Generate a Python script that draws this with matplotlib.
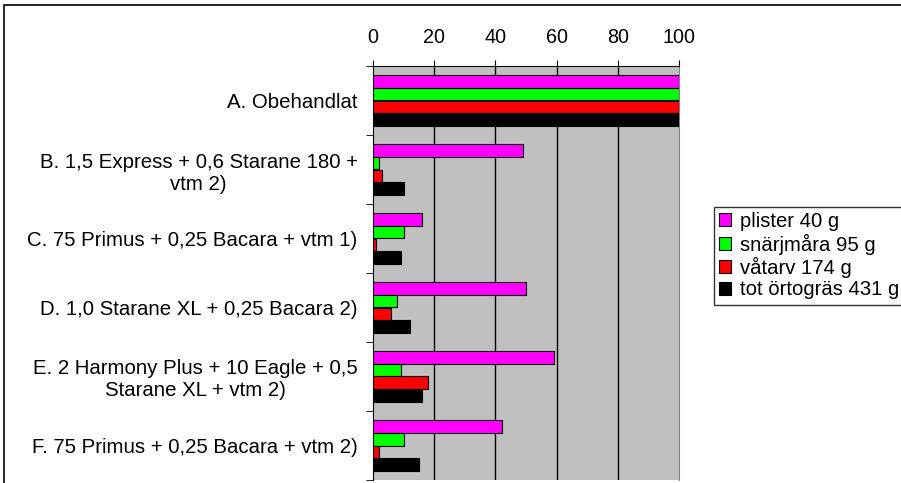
import numpy as np
import matplotlib.pyplot as plt
from matplotlib.patches import Rectangle, Patch

categories = [
    "A. Obehandlat",
    "B. 1,5 Express + 0,6 Starane 180 +\nvtm 2)",
    "C. 75 Primus + 0,25 Bacara + vtm 1)",
    "D. 1,0 Starane XL + 0,25 Bacara 2)",
    "E. 2 Harmony Plus + 10 Eagle + 0,5\nStarane XL + vtm 2)",
    "F. 75 Primus + 0,25 Bacara + vtm 2)",
]
series_names = ["plister 40 g", "snärjmåra 95 g", "våtarv 174 g", "tot örtogräs 431 g"]
plister = [100, 49, 16, 50, 59, 42]
snarjmara = [100, 2, 10, 8, 9, 10]
vatarv = [100, 3, 1, 6, 18, 2]
tot = [100, 10, 9, 12, 16, 15]
colors = ["#FF00FF", "#00FF00", "#FF0000", "#000000"]

plt.rcParams['font.family'] = ['Liberation Sans', 'DejaVu Sans']
fs = 14.2

fig = plt.figure(figsize=(9.01, 4.83), dpi=100)
ax = fig.add_axes([373/901, 1 - 480/483, (679 - 373)/901, (480 - 66)/483])

# outer chart frame
fig.patches.append(Rectangle((4/901, -0.1), 1.2, 1 - 5/483 + 0.1, transform=fig.transFigure,
                             fill=False, edgecolor='black', linewidth=1.2))

y = np.arange(len(categories))
h = 0.187
offsets = [-1.5*h, -0.5*h, 0.5*h, 1.5*h]
for vals, off, c, name in zip([plister, snarjmara, vatarv, tot], offsets, colors, series_names):
    ax.barh(y + off, vals, height=h, color=c, edgecolor='black', linewidth=0.8, label=name, zorder=3)

ax.set_facecolor('#C0C0C0')
ax.set_xlim(0, 100)
ax.set_ylim(len(categories) - 0.5, -0.5)
ax.xaxis.tick_top()
ax.set_xticks([0, 20, 40, 60, 80, 100])
ax.tick_params(axis='x', direction='out', length=4.5, labelsize=fs, pad=9)
for v in [20, 40, 60, 80]:
    ax.axvline(v, color='black', linewidth=1, zorder=1)

ax.set_yticks(y)
ax.set_yticklabels(categories, fontsize=14.7, multialignment='center')
ax.tick_params(axis='y', which='major', length=0, pad=11)
ax.set_yticks(np.arange(len(categories) + 1) - 0.5, minor=True)
ax.tick_params(axis='y', which='minor', length=5, direction='out')

ax.spines['top'].set_color('black')
ax.spines['left'].set_color('black')
ax.spines['right'].set_color('#808080')
ax.spines['bottom'].set_visible(False)

handles = [Patch(facecolor=c, edgecolor='black', linewidth=0.8) for c in colors]
leg = fig.legend(handles, series_names, loc='upper left', bbox_to_anchor=(714/901, 1 - 207/483),
                 fontsize=14.6, frameon=True, fancybox=False, edgecolor='black',
                 handlelength=0.6, handleheight=0.6, handletextpad=0.45, labelspacing=0.12,
                 borderpad=0.25, borderaxespad=0)
leg.get_frame().set_linewidth(1)

fig.savefig("out.png", dpi=100)
